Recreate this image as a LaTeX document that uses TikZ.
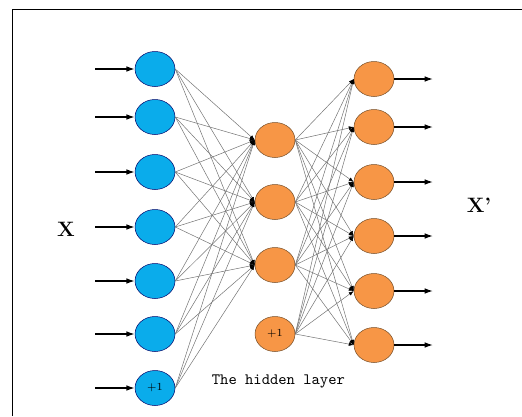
\documentclass[tikz,border=0pt]{standalone}
\usetikzlibrary{shapes.geometric,arrows.meta}
\definecolor{inblue}{RGB}{10,172,235}
\definecolor{unitorange}{RGB}{247,150,70}
\begin{document}
\begin{tikzpicture}[x=0.6pt,y=-0.6pt,
  inunit/.style={ellipse,draw=blue!40!black,fill=inblue,line width=0.3pt,
    minimum width=24pt,minimum height=21pt,inner sep=0pt,font=\fontsize{6.5}{7}\selectfont},
  unit/.style={ellipse,draw=brown!60!black,fill=unitorange,line width=0.3pt,
    minimum width=24pt,minimum height=21pt,inner sep=0pt,font=\fontsize{6.5}{7}\selectfont},
  wire/.style={black!55,line width=0.3pt,-{Latex[black,length=3pt,width=2.2pt]}},
  feed/.style={line width=0.8pt,-{Latex[length=5pt,width=3.4pt]}}]

    \useasboundingbox (0,0) rectangle (522,416);
    \draw[line width=1.1pt] (12.5,416) -- (12.5,9.5) -- (522,9.5);

    % input layer
    \foreach \y [count=\i] in {69,117,172,227,281,334} {
      \node[inunit] (in\i) at (155,\y) {};
    }
    \node[inunit] (in7) at (155,388) {+1};

    % hidden layer
    \foreach \y [count=\j] in {140,202,265} {
      \node[unit] (hid\j) at (275,\y) {};
    }
    \node[unit] (hid4) at (275,334) {+1};

    % output layer
    \foreach \y [count=\k] in {79,127,182,236,291,345} {
      \node[unit] (out\k) at (374,\y) {};
    }

    % weights
    \foreach \i in {1,...,7}
      \foreach \j in {1,2,3}
        \draw[wire] (in\i.east) -- (hid\j.west);
    \foreach \j in {1,...,4}
      \foreach \k in {1,...,6}
        \draw[wire] (hid\j.east) -- (out\k.west);

    % inputs and outputs
    \foreach \i in {1,...,7} {
      \coordinate (src\i) at (95,0 |- in\i);
      \draw[feed] (src\i) -- (in\i.west);
    }
    \foreach \k in {1,...,6} {
      \coordinate (dst\k) at (433,0 |- out\k);
      \draw[feed] (out\k.east) -- (dst\k);
    }

    \node[font=\fontsize{12.5}{14}\bfseries] (xin) at (66,229) {X};
    \node[font=\fontsize{12.5}{14}\bfseries] (xout) at (479,205) {X’};
    \node[font=\fontsize{9.5}{11}\ttfamily,anchor=base west] (hidlab) at (206,384) {The hidden layer};

\end{tikzpicture}
\end{document}
